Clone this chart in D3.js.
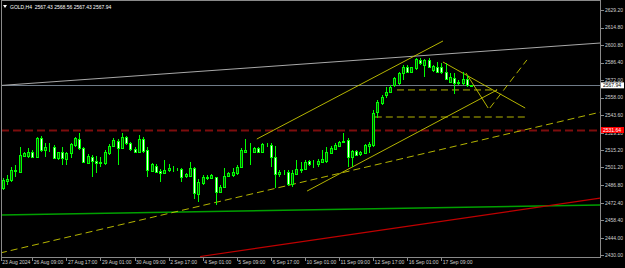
<!DOCTYPE html>
<html>
<head>
<meta charset="utf-8">
<script src="https://cdn.jsdelivr.net/npm/d3@7"></script>
<style>
body { margin: 0; background: #000; }
svg { display: block; }
text { font-family: "Liberation Sans", Arial, sans-serif; font-size: 5px; }
</style>
</head>
<body>
<div id="chart"></div>
<script>
// ****************************
// **   DATA (GOLD, H4)      **
// ****************************
var opens = [2484.2,2490.4,2491.0,2498.7,2497.7,2510.7,2510.7,2513.5,2509.9,2524.9,2515.4,2517.6,2518.1,2509.1,2513.5,2507.8,2512.7,2519.4,2524.3,2516.8,
  2505.0,2509.9,2506.7,2505.9,2504.6,2512.7,2518.9,2522.7,2516.8,2525.7,2521.3,2515.9,2513.5,2524.3,2515.4,2498.5,2502.6,2498.3,2496.4,2499.1,
  2499.6,2499.7,2499.7,2494.2,2494.2,2500.5,2479.6,2488.3,2493.7,2492.4,2493.2,2481.5,2485.5,2494.2,2495.0,2496.4,2501.8,2514.0,2514.9,2514.0,
  2516.8,2513.5,2519.5,2519.4,2509.4,2495.9,2497.6,2497.7,2487.7,2495.9,2499.1,2499.7,2506.4,2505.0,2503.7,2505.9,2506.7,2512.7,2516.2,2518.9,
  2521.6,2523.5,2509.9,2514.6,2511.9,2512.7,2518.6,2519.4,2546.3,2553.3,2560.1,2562.8,2568.2,2569.6,2577.7,2583.1,2579.0,2581.8,2588.6,2584.5,
  2588.6,2580.4,2583.1,2583.1,2579.0,2570.9,2574.2,2570.2,2569.6,2572.9,2567.43];
var highs = [2492.4,2495.0,2501.8,2503.2,2518.1,2514.0,2516.8,2515.4,2526.2,2526.8,2520.8,2520.8,2519.4,2514.0,2518.1,2514.0,2521.3,2526.2,2529.4,2518.1,
  2511.9,2511.3,2510.7,2509.4,2515.4,2520.3,2524.9,2524.1,2529.0,2526.8,2522.1,2518.1,2527.6,2525.7,2518.1,2505.0,2504.0,2499.7,2507.2,2503.7,
  2502.4,2500.5,2500.5,2496.9,2505.9,2501.8,2491.6,2495.0,2495.0,2495.9,2493.7,2486.9,2500.5,2497.7,2500.5,2503.2,2516.8,2524.1,2520.8,2518.1,
  2517.6,2521.3,2520.8,2521.3,2518.6,2499.1,2499.1,2499.1,2499.1,2507.2,2505.9,2507.2,2507.2,2507.2,2507.8,2515.4,2518.1,2518.6,2520.8,2522.7,
  2529.0,2524.9,2515.4,2515.4,2514.8,2520.3,2522.1,2547.9,2556.0,2560.1,2566.8,2568.2,2575.0,2579.0,2584.5,2584.5,2583.1,2589.9,2589.9,2589.1,
  2589.9,2584.5,2587.2,2585.9,2586.4,2577.7,2577.7,2572.3,2579.0,2576.4,2568.56];
var lows = [2482.9,2486.9,2489.6,2493.7,2496.4,2509.9,2508.6,2508.6,2509.4,2514.0,2509.9,2514.0,2507.8,2507.2,2503.2,2503.2,2508.6,2518.1,2515.4,2504.6,
  2504.6,2493.7,2496.4,2501.8,2503.2,2511.3,2517.6,2503.2,2515.9,2519.4,2514.8,2512.7,2512.7,2512.7,2493.7,2497.7,2496.4,2489.6,2495.6,2497.2,
  2497.2,2498.5,2489.6,2492.4,2493.7,2475.3,2473.3,2486.9,2491.0,2491.6,2470.7,2480.7,2484.2,2493.2,2493.7,2495.0,2500.5,2512.7,2503.2,2513.5,
  2512.7,2512.7,2518.1,2501.8,2484.2,2493.7,2495.0,2486.3,2485.5,2495.0,2496.4,2499.1,2502.6,2500.5,2501.8,2505.0,2505.0,2512.1,2515.4,2518.1,
  2520.8,2501.8,2501.8,2510.5,2510.7,2512.1,2512.7,2517.8,2541.4,2552.0,2557.4,2561.5,2566.8,2568.2,2572.3,2577.7,2578.2,2580.4,2584.5,2575.0,
  2582.6,2579.0,2577.7,2576.9,2572.3,2569.6,2560.7,2568.2,2568.2,2566.8,2567.43];
var closes = [2491.0,2491.6,2499.1,2499.5,2511.3,2512.7,2513.5,2509.9,2524.9,2515.4,2518.1,2517.8,2509.1,2513.5,2508.6,2512.7,2520.3,2524.9,2516.8,2505.4,
  2510.5,2506.7,2505.0,2504.6,2513.5,2518.9,2523.5,2516.8,2526.2,2520.8,2515.9,2513.5,2524.1,2514.8,2499.1,2504.0,2497.2,2496.4,2499.1,2500.5,
  2499.8,2499.6,2493.7,2495.9,2500.5,2480.2,2489.6,2493.7,2492.4,2495.0,2481.5,2485.5,2494.2,2496.4,2497.7,2501.8,2515.4,2515.4,2514.7,2516.8,
  2513.5,2520.3,2519.3,2509.4,2495.9,2497.7,2497.8,2487.7,2496.4,2499.7,2499.7,2505.9,2503.7,2505.2,2506.7,2507.8,2513.5,2516.8,2519.4,2521.6,
  2522.9,2509.9,2514.6,2511.3,2514.0,2519.4,2520.3,2545.5,2554.4,2558.7,2562.8,2566.8,2573.7,2577.7,2583.1,2579.0,2582.6,2589.1,2585.9,2588.6,
  2583.1,2583.7,2579.0,2578.6,2573.1,2575.0,2569.6,2570.4,2572.9,2568.2,2567.94];

// axis labels
var priceTicks = [2629.20, 2614.80, 2600.80, 2586.40, 2572.00, 2558.00, 2543.60, 2529.20, 2515.20, 2501.20, 2486.80, 2472.40, 2458.40, 2444.00, 2430.00];
var timeLabels = ["23 Aug 2024", "26 Aug 09:00", "27 Aug 17:00", "29 Aug 01:00", "30 Aug 09:00", "2 Sep 17:00", "4 Sep 01:00",
  "5 Sep 09:00", "6 Sep 17:00", "10 Sep 01:00", "11 Sep 09:00", "12 Sep 17:00", "16 Sep 01:00", "17 Sep 09:00"];
var timeBars = [-0.4, 7, 15, 23, 31, 39, 47, 55, 63, 71, 79, 87, 95, 103];

var title = "GOLD,H4  2567.43 2568.56 2567.43 2567.94";
var bidPrice = 2567.94;
var alertPrice = 2531.64;

// objects drawn on the chart: [bar1, price1, bar2, price2]
var silverTrend = [-0.6, 2567.8, 140.5, 2602.4];
var greenTrend = [-0.6, 2462.5, 140.5, 2470.7];
var redTrend = [46.4, 2428.8, 140.5, 2476.3];
var yellowSolid = [
  [59.7, 2524.3, 103.4, 2604.0],
  [71.5, 2482.0, 116.1, 2564.2],
  [103.4, 2586.9, 122.7, 2549.5],
  [108.8, 2578.0, 114.0, 2549.5]
];
var yellowDashed = [
  [-0.6, 2431.6, 140.5, 2546.3],
  [114.4, 2549.5, 123.1, 2588.6],
  [92.6, 2564.2, 116.1, 2564.2],
  [87.4, 2542.2, 123.1, 2542.2]
];

// ****************************
// **        CHART           **
// ****************************
var width = 625, height = 268;
var plot = { left: 1, right: 600, top: 0, bottom: 257 };

var svg = d3.select("#chart")
    .append("svg")
    .attr("width", width)
    .attr("height", height)
    .style("background", "#000");

var x = d3.scaleLinear().domain([0, 110]).range([2.5, 2.5 + 110 * 4.26]);
var y = d3.scaleLinear().domain([2430, 2629.2]).range([255, 10]);

svg.append("clipPath").attr("id", "clip")
    .append("rect")
    .attr("x", plot.left).attr("y", plot.top)
    .attr("width", plot.right - plot.left).attr("height", plot.bottom - plot.top);

var lines = svg.append("g").attr("clip-path", "url(#clip)");

function addLine(d, color, w, dash) {
    lines.append("line")
        .attr("x1", x(d[0])).attr("y1", y(d[1]))
        .attr("x2", x(d[2])).attr("y2", y(d[3]))
        .attr("stroke", color)
        .attr("stroke-width", w)
        .attr("stroke-dasharray", dash || null);
}

// horizontal levels
lines.append("line")
    .attr("x1", plot.left).attr("x2", plot.right)
    .attr("y1", Math.round(y(alertPrice)) + 0.5).attr("y2", Math.round(y(alertPrice)) + 0.5)
    .attr("stroke", "#7d0d0d").attr("stroke-width", 2).attr("stroke-dasharray", "8,4");

lines.append("line")
    .attr("x1", plot.left).attr("x2", plot.right)
    .attr("y1", Math.round(y(bidPrice)) + 0.5).attr("y2", Math.round(y(bidPrice)) + 0.5)
    .attr("stroke", "#6f7b88").attr("stroke-width", 1);

addLine(silverTrend, "#a8a8a8", 1);
addLine(greenTrend, "#00a000", 1.5);
addLine(redTrend, "#c00000", 1.2);
yellowSolid.forEach(function(d) { addLine(d, "#c8c800", 0.9); });
yellowDashed.forEach(function(d) { addLine(d, "#c8c800", 0.9, "7,4"); });

// candles
var bars = d3.range(opens.length).map(function(i) {
    return { i: i, o: opens[i], h: highs[i], l: lows[i], c: closes[i] };
});

var candle = svg.append("g")
    .attr("class", "candles")
    .attr("shape-rendering", "crispEdges")
    .selectAll("g")
    .data(bars)
    .enter().append("g");

candle.append("line")
    .attr("x1", function(d) { return Math.round(x(d.i)) + 0.5; })
    .attr("x2", function(d) { return Math.round(x(d.i)) + 0.5; })
    .attr("y1", function(d) { return y(d.h); })
    .attr("y2", function(d) { return y(d.l); })
    .attr("stroke", "#00ff00");

candle.append("rect")
    .attr("x", function(d) { return Math.round(x(d.i)) - 0.5; })
    .attr("y", function(d) { return Math.round(y(Math.max(d.o, d.c))) + 0.5; })
    .attr("width", 2)
    .attr("height", function(d) { return Math.max(0, Math.round(y(Math.min(d.o, d.c))) - Math.round(y(Math.max(d.o, d.c)))); })
    .attr("fill", function(d) { return d.c >= d.o ? "#0b4f0b" : "#f4fff4"; })
    .attr("stroke", "#00ff00");

// frame
svg.append("rect")
    .attr("x", plot.left + 0.5).attr("y", plot.top + 0.5)
    .attr("width", plot.right - plot.left).attr("height", plot.bottom - plot.top)
    .attr("fill", "none").attr("stroke", "#8a8a8a");

// price axis
var yAxis = svg.append("g").attr("shape-rendering", "crispEdges");
yAxis.selectAll("line")
    .data(priceTicks)
    .enter().append("line")
    .attr("x1", plot.right + 0.5).attr("x2", plot.right + 3.5)
    .attr("y1", function(d) { return Math.round(y(d)) + 0.5; })
    .attr("y2", function(d) { return Math.round(y(d)) + 0.5; })
    .attr("stroke", "#8a8a8a");
yAxis.selectAll("text")
    .data(priceTicks)
    .enter().append("text")
    .attr("x", plot.right + 5)
    .attr("y", function(d) { return y(d); })
    .attr("dy", "0.35em")
    .attr("fill", "#d0d0d0")
    .text(function(d) { return d.toFixed(2); });

// time axis
var xAxis = svg.append("g").attr("shape-rendering", "crispEdges");
xAxis.selectAll("line")
    .data(timeBars)
    .enter().append("line")
    .attr("x1", function(d) { return Math.round(x(d)) + 0.5; })
    .attr("x2", function(d) { return Math.round(x(d)) + 0.5; })
    .attr("y1", plot.bottom + 0.5).attr("y2", plot.bottom + 3.5)
    .attr("stroke", "#8a8a8a");
xAxis.selectAll("text")
    .data(timeBars)
    .enter().append("text")
    .attr("x", function(d) { return x(d) + 1.5; })
    .attr("y", 263.5)
    .attr("fill", "#d0d0d0")
    .text(function(d, i) { return timeLabels[i]; });

// price labels on the axis
function priceBox(p, bg, fg) {
    var g = svg.append("g");
    g.append("rect")
        .attr("x", plot.right + 1).attr("y", y(p) - 3)
        .attr("width", 23).attr("height", 6)
        .attr("fill", bg);
    g.append("text")
        .attr("x", plot.right + 3).attr("y", y(p))
        .attr("dy", "0.35em")
        .attr("fill", fg)
        .text(p.toFixed(2));
}
priceBox(bidPrice, "#ffffff", "#000000");
priceBox(alertPrice, "#ff0000", "#ffffff");

// title
svg.append("path")
    .attr("d", "M3,5 L7,5 L5,8 Z")
    .attr("fill", "#ffffff");
svg.append("text")
    .attr("x", 10).attr("y", 8.5)
    .attr("fill", "#ffffff")
    .style("white-space", "pre")
    .text(title);
</script>
</body>
</html>
